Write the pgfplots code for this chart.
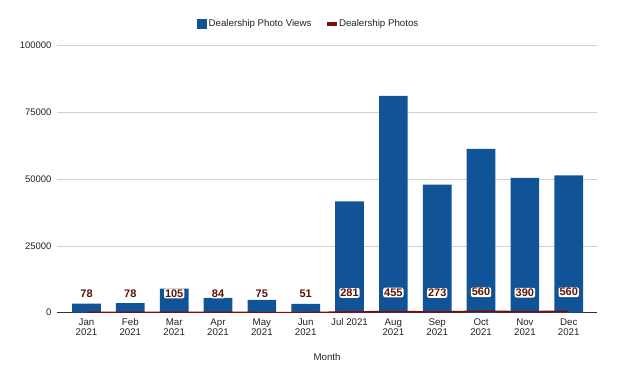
\documentclass[border=0pt]{standalone}
\usepackage{pgfplots}
\pgfplotsset{compat=1.18}
\usepackage{fontspec}
\setmainfont{Liberation Sans}
\definecolor{barblue}{RGB}{16,83,151}
\definecolor{photored}{RGB}{128,10,10}
\definecolor{labred}{RGB}{92,20,10}
\definecolor{txt}{RGB}{34,34,34}
\begin{document}
\begin{tikzpicture}
\path[use as bounding box] (0,0) rectangle (617pt,381pt);
\begin{axis}[
  at={(57pt,68.3pt)}, anchor=south west,
  scale only axis, width=540pt, height=267pt,
  xmin=-0.673, xmax=11.645, ymin=0, ymax=100000,
  axis line style={draw=none},
  major tick length=0pt,
  scaled y ticks=false,
  /pgf/number format/assume math mode=true,
  ytick={0,25000,50000,75000,100000},
  yticklabels={0,25000,50000,75000,100000},
  yticklabel style={anchor=east, inner sep=0pt, xshift=-5.3pt, font=\fontsize{9.5}{10}\selectfont, text=txt},
  ymajorgrids, grid style={draw=black!18, line width=0.7pt},
  extra y ticks={0}, extra y tick labels={},
  extra y tick style={grid style={draw=black!80, line width=0.9pt}},
  xtick={0,1,2,3,4,5,6,7,8,9,10,11},
  xticklabels={Jan\\2021,Feb\\2021,Mar\\2021,Apr\\2021,May\\2021,Jun\\2021,Jul 2021,Aug\\2021,Sep\\2021,Oct\\2021,Nov\\2021,Dec\\2021},
  xticklabel style={align=center, anchor=north, inner sep=0pt, yshift=-5.5pt, font=\fontsize{9.7}{10.3}\selectfont, text=txt},
  xlabel={Month},
  xlabel style={at={(axis description cs:0.5,-0.1648)}, anchor=center, font=\fontsize{9.7}{10}\selectfont, text=txt},
  legend style={at={(axis description cs:0.4657,1.081)}, anchor=center, draw=none, fill=none,
    legend columns=2, font=\fontsize{9.7}{10}\selectfont, text=txt,
    /tikz/every even column/.append style={column sep=13pt}},
  legend cell align=left,
]
\addplot[ybar, bar width=28.7pt, fill=barblue, draw=none,
  legend image code/.code={\fill[barblue] (0pt,-5pt) rectangle (10pt,5pt);}]
  coordinates {(0,3400) (1,3600) (2,9000) (3,5600) (4,4800) (5,3300)
               (6,41700) (7,81200) (8,48000) (9,61400) (10,50500) (11,51400)};
\addlegendentry{Dealership Photo Views}
\addplot[photored, line width=1.5pt, mark=none,
  legend image code/.code={\fill[photored] (0pt,-1.5pt) rectangle (9pt,1.5pt);},
  nodes near coords,
  every node near coord/.append style={anchor=center, yshift=19pt, font=\bfseries\fontsize{11}{11}\selectfont,
    text=labred, fill=white, rounded corners=2pt, inner sep=1pt}]
  coordinates {(0,78) (1,78) (2,105) (3,84) (4,75) (5,51)
               (6,281) (7,455) (8,273) (9,560) (10,390) (11,560)};
\addlegendentry{Dealership Photos}
\end{axis}
\end{tikzpicture}
\end{document}
